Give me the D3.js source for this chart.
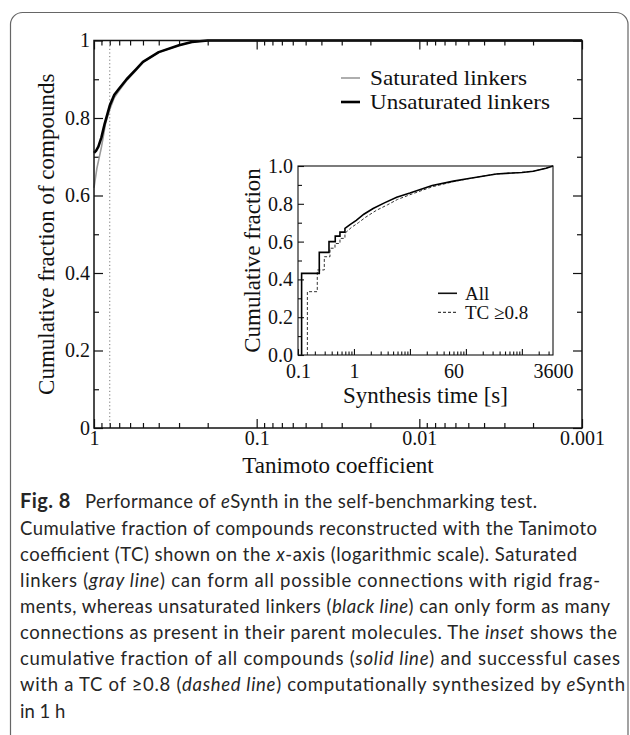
<!DOCTYPE html>
<html><head><meta charset="utf-8">
<script src="https://cdn.jsdelivr.net/npm/d3@7"></script>
<style>body{margin:0;background:#fff}svg{display:block}</style>
</head><body>
<svg id="c" width="630" height="735"></svg>
<script>
// ---------- data ----------
const mainTicksX = [1, 0.1, 0.01, 0.001];
const mainTickLabelsX = ["1", "0.1", "0.01", "0.001"];
const mainTicksY = [0, 0.2, 0.4, 0.6, 0.8, 1];
const mainTickLabelsY = ["0", "0.2", "0.4", "0.6", "0.8", "1"];
const unsatTC   = [1, 0.97, 0.94, 0.9, 0.86, 0.8, 0.75, 0.7, 0.63, 0.55, 0.5, 0.4, 0.3, 0.25, 0.2, 0.001];
const unsatFrac = [0.71, 0.716, 0.726, 0.75, 0.785, 0.832, 0.86, 0.876, 0.9, 0.926, 0.945, 0.97, 0.988, 0.996, 1.0, 1.0];
const satTC     = [1, 0.96, 0.9, 0.85, 0.8, 0.75, 0.7, 0.63, 0.55, 0.5, 0.4, 0.3, 0.25, 0.2, 0.001];
const satFrac   = [0.62, 0.67, 0.725, 0.785, 0.822, 0.853, 0.871, 0.897, 0.923, 0.944, 0.97, 0.988, 0.996, 1.0, 1.0];
const cutoffTC = 0.8;
const mainLegend = ["Saturated linkers", "Unsaturated linkers"];
const mainXTitle = "Tanimoto coefficient";
const mainYTitle = "Cumulative fraction of compounds";

const insetTicksX = [0.1, 1, 60, 3600];
const insetTickLabelsX = ["0.1", "1", "60", "3600"];
const insetTicksY = [0, 0.2, 0.4, 0.6, 0.8, 1];
const insetTickLabelsY = ["0.0", "0.2", "0.4", "0.6", "0.8", "1.0"];
const allTime = [0.116, 0.116, 0.24, 0.24, 0.358, 0.358, 0.463, 0.463, 0.562, 0.562, 0.69, 0.69, 0.85, 1.1, 1.5, 2.2, 3.5, 5.8, 10, 25, 60, 120, 350, 1000, 1600, 2700, 3600];
const allFrac = [0, 0.432, 0.432, 0.543, 0.543, 0.6, 0.6, 0.629, 0.629, 0.65, 0.65, 0.67, 0.69, 0.712, 0.745, 0.775, 0.805, 0.835, 0.857, 0.897, 0.92, 0.935, 0.958, 0.966, 0.972, 0.988, 1.0];
const tcTime = [0.147, 0.147, 0.221, 0.221, 0.295, 0.295, 0.373, 0.373, 0.458, 0.458, 0.562, 0.562, 0.69, 0.69, 0.9, 1.2, 1.6, 2.5, 4, 6, 10, 25, 60, 120, 350, 1000, 1600, 2700, 3600];
const tcFrac = [0, 0.335, 0.335, 0.45, 0.45, 0.52, 0.52, 0.565, 0.565, 0.59, 0.59, 0.617, 0.617, 0.644, 0.675, 0.7, 0.728, 0.765, 0.795, 0.823, 0.848, 0.89, 0.917, 0.935, 0.958, 0.966, 0.972, 0.988, 1.0];
const insetLegend = ["All", "TC \u22650.8"];
const insetXTitle = "Synthesis time [s]";
const insetYTitle = "Cumulative fraction";

const captionLines = [
  [["b","Fig. 8"],["n","\u2003Performance of "],["i","e"],["n","Synth in the self-benchmarking test."]],
  [["n","Cumulative fraction of compounds reconstructed with the Tanimoto"]],
  [["n","coefficient (TC) shown on the "],["i","x"],["n","-axis (logarithmic scale). Saturated"]],
  [["n","linkers ("],["i","gray line"],["n",") can form all possible connections with rigid frag-"]],
  [["n","ments, whereas unsaturated linkers ("],["i","black line"],["n",") can only form as many"]],
  [["n","connections as present in their parent molecules. The "],["i","inset"],["n"," shows the"]],
  [["n","cumulative fraction of all compounds ("],["i","solid line"],["n",") and successful cases"]],
  [["n","with a TC of \u22650.8 ("],["i","dashed line"],["n",") computationally synthesized by "],["i","e"],["n","Synth"]],
  [["n","in 1 h"]]
];
const captionRight = [537, 597, 577, 600, 610, 617, 620, 625, null];

// ---------- drawing ----------
const svg = d3.select("#c");
const serif = "'Liberation Serif','Times New Roman',serif";

// figure border
svg.append("path")
  .attr("d", "M10.5,735 V24 A12,12 0 0 1 22.5,12.5 H616 A12,12 0 0 1 628,24 V735")
  .attr("fill", "none").attr("stroke", "#666").attr("stroke-width", 1.2);

// main scales
const x = d3.scaleLog().domain([1, 0.001]).range([94, 582]);
const y = d3.scaleLinear().domain([0, 1]).range([428, 40.5]);

const g = svg.append("g");
const minorX = x.ticks().filter(v => !mainTicksX.some(m => Math.abs(m - v) < 1e-12));
const minorY = [0.1, 0.3, 0.5, 0.7, 0.9];

function styleAxis(sel) {
  sel.select(".domain").remove();
  sel.selectAll(".tick line").attr("stroke", "#111").attr("stroke-width", 1.2);
  sel.selectAll("text").attr("font-family", serif).attr("font-size", 20).attr("fill", "#111");
}
// bottom
g.append("g").attr("transform", `translate(0,${y(0)})`)
  .call(d3.axisBottom(x).tickValues(mainTicksX).tickSize(-9).tickPadding(3).tickFormat((d, i) => mainTickLabelsX[i]))
  .call(styleAxis);
g.append("g").attr("transform", `translate(0,${y(0)})`)
  .call(d3.axisBottom(x).tickValues(minorX).tickSize(-5).tickFormat(""))
  .call(styleAxis);
// top
g.append("g").attr("transform", `translate(0,${y(1)})`)
  .call(d3.axisTop(x).tickValues(mainTicksX).tickSize(-9).tickFormat(""))
  .call(styleAxis);
g.append("g").attr("transform", `translate(0,${y(1)})`)
  .call(d3.axisTop(x).tickValues(minorX).tickSize(-5).tickFormat(""))
  .call(styleAxis);
// left
g.append("g").attr("transform", `translate(${x(1)},0)`)
  .call(d3.axisLeft(y).tickValues(mainTicksY).tickSize(-9).tickPadding(4).tickFormat((d, i) => mainTickLabelsY[i]))
  .call(styleAxis);
g.append("g").attr("transform", `translate(${x(1)},0)`)
  .call(d3.axisLeft(y).tickValues(minorY).tickSize(-5).tickFormat(""))
  .call(styleAxis);
// right
g.append("g").attr("transform", `translate(${x(0.001)},0)`)
  .call(d3.axisRight(y).tickValues(mainTicksY).tickSize(-9).tickFormat(""))
  .call(styleAxis);
g.append("g").attr("transform", `translate(${x(0.001)},0)`)
  .call(d3.axisRight(y).tickValues(minorY).tickSize(-5).tickFormat(""))
  .call(styleAxis);

// dotted cutoff
g.append("line").attr("x1", x(cutoffTC)).attr("x2", x(cutoffTC)).attr("y1", y(0)).attr("y2", y(1))
  .attr("stroke", "#777").attr("stroke-width", 1).attr("stroke-dasharray", "1.2,2.4");

// curves
const lineMain = d3.line().x(d => x(d[0])).y(d => y(d[1]));
g.append("path").datum(satTC.map((t, i) => [t, satFrac[i]])).attr("d", lineMain)
  .attr("fill", "none").attr("stroke", "#9a9a9a").attr("stroke-width", 1.6);
g.append("path").datum(unsatTC.map((t, i) => [t, unsatFrac[i]])).attr("d", lineMain)
  .attr("fill", "none").attr("stroke", "#000").attr("stroke-width", 2.6).attr("stroke-linejoin", "round");

// frame
g.append("rect").attr("x", x(1)).attr("y", y(1)).attr("width", x(0.001) - x(1)).attr("height", y(0) - y(1))
  .attr("fill", "none").attr("stroke", "#111").attr("stroke-width", 1.5);

// titles
g.append("text").attr("x", (x(1) + x(0.001)) / 2).attr("y", 473).attr("text-anchor", "middle")
  .attr("font-family", serif).attr("font-size", 23).attr("fill", "#111").text(mainXTitle);
g.append("text").attr("transform", `translate(53.5,${(y(0) + y(1)) / 2}) rotate(-90)`).attr("text-anchor", "middle")
  .attr("font-family", serif).attr("font-size", 23).attr("fill", "#111").text(mainYTitle);

// main legend
const legStyles = [{c: "#9a9a9a", w: 1.6}, {c: "#000", w: 2.6}];
mainLegend.forEach((t, i) => {
  const ly = 78 + i * 24;
  g.append("line").attr("x1", 341).attr("x2", 360).attr("y1", ly).attr("y2", ly)
    .attr("stroke", legStyles[i].c).attr("stroke-width", legStyles[i].w);
  g.append("text").attr("x", 370).attr("y", ly + 7).attr("font-family", serif).attr("font-size", 21)
    .attr("fill", "#111").attr("textLength", i === 0 ? 157 : 180).attr("lengthAdjust", "spacingAndGlyphs").text(t);
});

// ---------- inset ----------
const xi = d3.scaleLog().domain([0.1, 3600]).range([298, 553]);
const yi = d3.scaleLinear().domain([0, 1]).range([355, 166]);
const ins = svg.append("g");
ins.append("rect").attr("x", xi(0.1)).attr("y", yi(1)).attr("width", xi(3600) - xi(0.1)).attr("height", yi(0) - yi(1))
  .attr("fill", "#fff");
const insMajor = [0.1, 1, 10, 100, 1000];
const insMinor = xi.ticks().filter(v => !insMajor.some(m => Math.abs(m - v) / m < 1e-9));
function styleInset(sel) {
  sel.select(".domain").remove();
  sel.selectAll(".tick line").attr("stroke", "#111").attr("stroke-width", 1.1);
  sel.selectAll("text").attr("font-family", serif).attr("font-size", 20).attr("fill", "#111");
}
ins.append("g").attr("transform", `translate(0,${yi(0)})`)
  .call(d3.axisBottom(xi).tickValues(insMajor).tickSize(-6).tickFormat(""))
  .call(styleInset);
ins.append("g").attr("transform", `translate(0,${yi(0)})`)
  .call(d3.axisBottom(xi).tickValues(insMinor).tickSize(-3.5).tickFormat(""))
  .call(styleInset);
ins.append("g").attr("transform", `translate(0,${yi(0)})`)
  .call(d3.axisBottom(xi).tickValues(insetTicksX).tickSize(0).tickPadding(9).tickFormat((d, i) => insetTickLabelsX[i]))
  .call(styleInset);
ins.append("g").attr("transform", `translate(${xi(0.1)},0)`)
  .call(d3.axisLeft(yi).tickValues(insetTicksY).tickSize(-6).tickPadding(5).tickFormat((d, i) => insetTickLabelsY[i]))
  .call(styleInset);
ins.append("g").attr("transform", `translate(${xi(0.1)},0)`)
  .call(d3.axisLeft(yi).tickValues([0.1, 0.3, 0.5, 0.7, 0.9]).tickSize(-4).tickFormat(""))
  .call(styleInset);

const lineIns = d3.line().x(d => xi(d[0])).y(d => yi(d[1]));
ins.append("path").datum(tcTime.map((t, i) => [t, tcFrac[i]])).attr("d", lineIns)
  .attr("fill", "none").attr("stroke", "#333").attr("stroke-width", 1).attr("stroke-dasharray", "3,2");
ins.append("path").datum(allTime.map((t, i) => [t, allFrac[i]])).attr("d", lineIns)
  .attr("fill", "none").attr("stroke", "#000").attr("stroke-width", 1.6);
ins.append("rect").attr("x", xi(0.1)).attr("y", yi(1)).attr("width", xi(3600) - xi(0.1)).attr("height", yi(0) - yi(1))
  .attr("fill", "none").attr("stroke", "#111").attr("stroke-width", 1.1);

ins.append("text").attr("x", (xi(0.1) + xi(3600)) / 2).attr("y", 403).attr("text-anchor", "middle")
  .attr("font-family", serif).attr("font-size", 23).attr("fill", "#111").text(insetXTitle);
ins.append("text").attr("transform", `translate(260,${(yi(0) + yi(1)) / 2}) rotate(-90)`).attr("text-anchor", "middle")
  .attr("font-family", serif).attr("font-size", 23).attr("fill", "#111").text(insetYTitle);

const insLeg = [{d: null, w: 1.6}, {d: "3,2", w: 1}];
insetLegend.forEach((t, i) => {
  const ly = 293.3 + i * 19;
  ins.append("line").attr("x1", 438).attr("x2", 457).attr("y1", ly).attr("y2", ly)
    .attr("stroke", "#111").attr("stroke-width", insLeg[i].w).attr("stroke-dasharray", insLeg[i].d);
  ins.append("text").attr("x", 465).attr("y", ly + 6.5).attr("font-family", serif).attr("font-size", 19)
    .attr("fill", "#111").text(t);
});

// ---------- caption ----------
const sans = "Lato,'Noto Sans','Open Sans',sans-serif";
captionLines.forEach((parts, i) => {
  const t = svg.append("text").attr("x", 20).attr("y", 508.4 + i * 26.15)
    .attr("font-family", sans).attr("font-size", 18.5).attr("fill", "#262626");
  parts.forEach(p => {
    const s = t.append("tspan").text(p[1]);
    if (p[0] === "b") s.attr("font-weight", "bold").attr("font-size", 20);
    if (p[0] === "i") s.attr("font-style", "italic");
  });
  if (captionRight[i]) t.attr("textLength", captionRight[i] - 20).attr("lengthAdjust", "spacing");
});
</script>
</body></html>
